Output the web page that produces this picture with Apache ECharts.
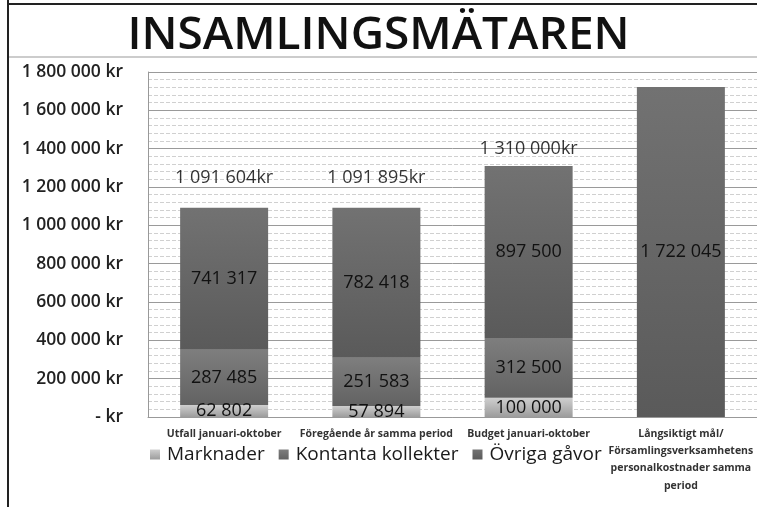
<!DOCTYPE html>
<html>
<head>
<meta charset="utf-8">
<script src="https://cdn.jsdelivr.net/npm/echarts@6/dist/echarts.min.js"></script>
<style>
html,body{margin:0;padding:0;background:#fff;}
#chart{width:757px;height:507px;}
</style>
</head>
<body>
<div id="chart"></div>
<script>
const titleText = 'INSAMLINGSMÄTAREN';
const categories = [
  'Utfall januari-oktober',
  'Föregående år samma period',
  'Budget januari-oktober',
  'Långsiktigt mål/\nFörsamlingsverksamhetens\npersonalkostnader samma\nperiod'
];
const marknader = [62802, 57894, 100000, null];
const kontanta = [287485, 251583, 312500, null];
const ovriga = [741317, 782418, 897500, 1722045];
const totals = [1091604, 1091895, 1310000, null];
const seriesNames = ['Marknader', 'Kontanta kollekter', 'Övriga gåvor'];
const yMin = 0, yMax = 1800000, yStep = 200000;

function fmt(n) {
  return String(n).replace(/\B(?=(\d{3})+(?!\d))/g, ' ');
}
function grad(top, bottom) {
  return {type: 'linear', x: 0, y: 0, x2: 0, y2: 1,
    colorStops: [{offset: 0, color: top}, {offset: 1, color: bottom}]};
}
const FONT = 'Open Sans';
const segLabel = {
  show: true, position: 'inside', color: '#111', fontSize: 18,
  fontFamily: FONT, formatter: p => fmt(p.value)
};

const chart = echarts.init(document.getElementById('chart'), null, {renderer: 'canvas'});
chart.setOption({
  backgroundColor: '#fff',
  animation: false,
  title: {
    text: titleText, left: 'center', top: 8,
    textStyle: {fontFamily: FONT, fontSize: 46, fontWeight: 600, color: '#111'}
  },
  graphic: [
    {type: 'line', shape: {x1: 8, y1: 0, x2: 8, y2: 507}, style: {stroke: '#222', lineWidth: 2}},
    {type: 'line', shape: {x1: 8, y1: 4, x2: 757, y2: 4}, style: {stroke: '#222', lineWidth: 2}},
    {type: 'line', shape: {x1: 9, y1: 57, x2: 757, y2: 57}, style: {stroke: '#bbb', lineWidth: 1.5}}
  ],
  legend: {
    data: seriesNames, left: 145, top: 440, itemWidth: 10, itemHeight: 10, itemGap: 14,
    icon: 'rect',
    textStyle: {fontFamily: FONT, fontSize: 19, color: '#1a1a1a', padding: [0, 0, 0, 2]}
  },
  grid: {left: 148, top: 72, width: 615, height: 345, containLabel: false},
  xAxis: {
    type: 'category', data: categories,
    axisLine: {show: true, lineStyle: {color: '#999'}},
    axisTick: {show: false},
    axisLabel: {
      interval: 0, margin: 8, fontFamily: FONT, fontSize: 10.5, fontWeight: 'bold',
      color: '#333', lineHeight: 17.3
    }
  },
  yAxis: {
    type: 'value', min: yMin, max: yMax, interval: yStep,
    axisLine: {show: true, lineStyle: {color: '#999'}},
    axisTick: {show: false},
    axisLabel: {
      margin: 25, fontFamily: FONT, fontSize: 17.5, fontWeight: 600, color: '#222',
      formatter: v => v === 0 ? '- kr' : fmt(v) + ' kr'
    },
    splitLine: {show: true, lineStyle: {color: '#9a9a9a', width: 1}},
    minorTick: {show: false, splitNumber: 5},
    minorSplitLine: {show: true, lineStyle: {color: '#d0d0d0', type: 'dashed', width: 1}}
  },
  series: [
    {
      name: seriesNames[0], type: 'bar', stack: 'tot', barWidth: 88, data: marknader,
      itemStyle: {color: grad('#cfcfcf', '#9c9c9c')}, label: segLabel
    },
    {
      name: seriesNames[1], type: 'bar', stack: 'tot', barWidth: 88, data: kontanta,
      itemStyle: {color: grad('#7e7e7e', '#626262')}, label: segLabel
    },
    {
      name: seriesNames[2], type: 'bar', stack: 'tot', barWidth: 88, data: ovriga,
      itemStyle: {color: grad('#727272', '#5a5a5a')}, label: segLabel
    },
    {
      name: 'Totalt', type: 'scatter', symbolSize: 0, silent: true,
      data: totals.map((v, i) => v == null ? null : {
        value: v,
        label: {offset: [0, i === 2 ? -17 : -30]}
      }),
      label: {
        show: true, position: 'inside', color: '#000', fontSize: 18, fontFamily: FONT,
        formatter: p => fmt(p.value) + 'kr'
      }
    }
  ]
});
</script>
</body>
</html>
